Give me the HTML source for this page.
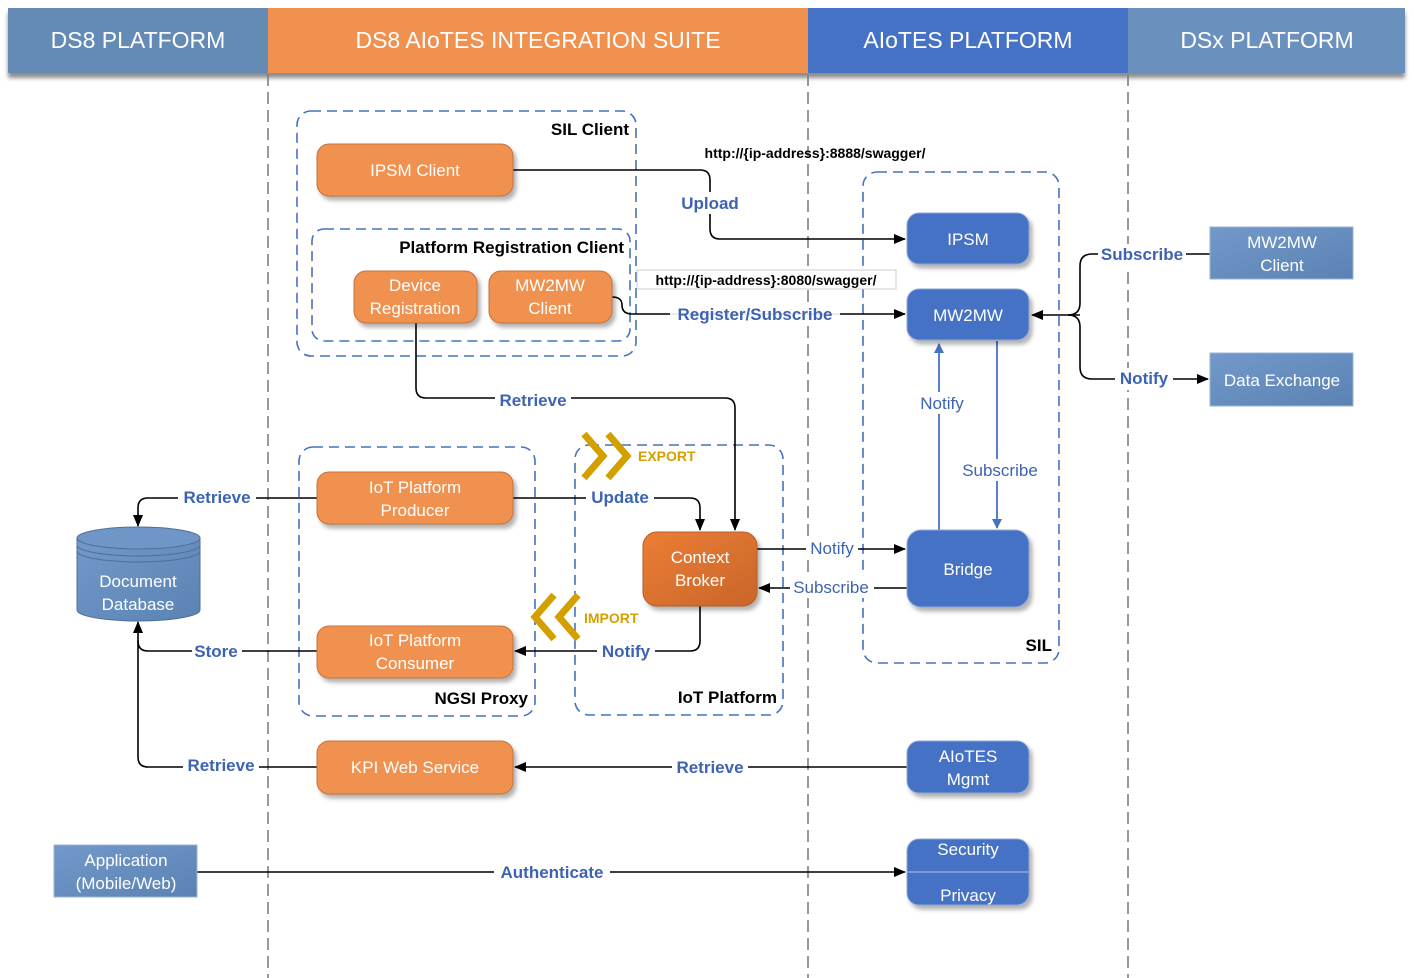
<!DOCTYPE html>
<html><head><meta charset="utf-8"><style>
html,body{margin:0;padding:0;background:#fff;}
svg{display:block;font-family:"Liberation Sans",sans-serif;}
.bt{fill:#fff;font-size:17px;text-anchor:middle;}
.lb{fill:#3d63b3;font-size:17px;font-weight:bold;text-anchor:middle;}
.ln{fill:#3d63b3;font-size:17px;text-anchor:middle;}
.gt{fill:#000;font-size:17px;font-weight:bold;text-anchor:end;}
.c{fill:none;stroke:#000;stroke-width:1.6;}
.d{fill:none;stroke:#4472c4;stroke-width:1.6;stroke-dasharray:10 6;}
.o{fill:#f0914f;stroke:#c8723a;stroke-width:1;filter:url(#sh);}
.b{fill:#4472c4;stroke:#8fa8d8;stroke-width:1;filter:url(#sh);}
.lbx{fill:url(#lg);stroke:#9ab3d6;stroke-width:1;}
</style></head><body>
<svg width="1414" height="978" viewBox="0 0 1414 978" xmlns="http://www.w3.org/2000/svg">
<defs>
<filter id="sh" x="-10%" y="-10%" width="130%" height="140%"><feDropShadow dx="3" dy="4" stdDeviation="2" flood-color="#000" flood-opacity="0.3"/></filter>
<filter id="hs" x="-5%" y="-10%" width="110%" height="140%"><feDropShadow dx="0" dy="5" stdDeviation="2" flood-color="#000" flood-opacity="0.45"/></filter>
<linearGradient id="lg" x1="0" y1="0" x2="1" y2="1"><stop offset="0" stop-color="#7299c9"/><stop offset="1" stop-color="#5a82b2"/></linearGradient>
<linearGradient id="cb" x1="0" y1="0" x2="1" y2="1"><stop offset="0" stop-color="#ec7d35"/><stop offset="1" stop-color="#c8662a"/></linearGradient>
<marker id="a" markerWidth="12" markerHeight="10" refX="11" refY="5" orient="auto" markerUnits="userSpaceOnUse"><path d="M0,0 L12,5 L0,10 z" fill="#000"/></marker>
<marker id="ab" markerWidth="10" markerHeight="10" refX="9" refY="5" orient="auto" markerUnits="userSpaceOnUse"><path d="M0,0 L10,5 L0,10 z" fill="#4472c4"/></marker>
</defs>

<!-- header -->
<g filter="url(#hs)">
<rect x="8" y="8" width="260" height="65" fill="#648bb6"/>
<rect x="268" y="8" width="540" height="65" fill="#f0914f"/>
<rect x="808" y="8" width="320" height="65" fill="#4472c4"/>
<rect x="1128" y="8" width="277" height="65" fill="#6a90bd"/>
</g>
<g fill="#fff" font-size="23" text-anchor="middle">
<text x="138" y="48">DS8 PLATFORM</text>
<text x="538" y="48">DS8 AIoTES INTEGRATION SUITE</text>
<text x="968" y="48">AIoTES PLATFORM</text>
<text x="1267" y="48">DSx PLATFORM</text>
</g>

<!-- swimlane dividers -->
<g stroke="#808080" stroke-width="1.6" stroke-dasharray="12 6">
<line x1="268" y1="74" x2="268" y2="978"/>
<line x1="808" y1="74" x2="808" y2="978"/>
<line x1="1128" y1="74" x2="1128" y2="978"/>
</g>

<!-- dashed groups -->
<rect class="d" x="297" y="111" width="339" height="245" rx="14"/>
<rect class="d" x="312" y="229" width="318" height="112" rx="12"/>
<rect class="d" x="299" y="447" width="236" height="269" rx="14"/>
<rect class="d" x="575" y="445" width="208" height="270" rx="14"/>
<rect class="d" x="863" y="172" width="196" height="491" rx="14"/>
<text class="gt" x="629" y="135">SIL Client</text>
<text class="gt" x="624" y="253">Platform Registration Client</text>
<text class="gt" x="528" y="704">NGSI Proxy</text>
<text class="gt" x="777" y="703">IoT Platform</text>
<text class="gt" x="1052" y="651">SIL</text>

<!-- url labels -->
<text x="815" y="158" font-size="14" font-weight="bold" text-anchor="middle">http://{ip-address}:8888/swagger/</text>
<rect x="637" y="270" width="259" height="19" fill="#fff" stroke="#ccc"/>
<text x="766" y="285" font-size="14" font-weight="bold" text-anchor="middle">http://{ip-address}:8080/swagger/</text>

<!-- connectors -->
<path class="c" d="M513,170 H700 Q710,170 710,180 V229 Q710,239 720,239 H905" marker-end="url(#a)"/>
<path class="c" d="M612,297 Q622,297 622,305 Q622,314 632,314 H905" marker-end="url(#a)"/>
<path class="c" d="M1080,315 H1032" marker-end="url(#a)"/>
<path class="c" d="M1068,315 Q1080,315 1080,303 V266 Q1080,254 1092,254 H1210"/>
<path class="c" d="M1068,315 Q1080,315 1080,327 V367 Q1080,379 1092,379 H1208" marker-end="url(#a)"/>
<path fill="none" stroke="#4472c4" stroke-width="1.8" d="M939,530 V344" marker-end="url(#ab)"/>
<path fill="none" stroke="#4472c4" stroke-width="1.8" d="M997,341 V528" marker-end="url(#ab)"/>
<path class="c" d="M416,323 V388 Q416,398 426,398 H725 Q735,398 735,408 V530" marker-end="url(#a)"/>
<path class="c" d="M513,498 H690 Q700,498 700,508 V530" marker-end="url(#a)"/>
<path class="c" d="M317,498 H148 Q138,498 138,508 V526" marker-end="url(#a)"/>
<path class="c" d="M757,549 H905" marker-end="url(#a)"/>
<path class="c" d="M907,588 H759" marker-end="url(#a)"/>
<path class="c" d="M700,606 V641 Q700,651 690,651 H515" marker-end="url(#a)"/>
<path class="c" d="M317,651 H148 Q138,651 138,641 V622" marker-end="url(#a)"/>
<path class="c" d="M317,767 H148 Q138,767 138,757 V640"/>
<path class="c" d="M907,767 H515" marker-end="url(#a)"/>
<path class="c" d="M197,872 H905" marker-end="url(#a)"/>

<!-- connector labels -->
<g>
<rect x="676" y="192" width="70" height="22" fill="#fff"/><text class="lb" x="710" y="209">Upload</text>
<rect x="670" y="303" width="170" height="22" fill="#fff" opacity="0.9"/><text class="lb" x="755" y="320">Register/Subscribe</text>
<rect x="1098" y="244" width="88" height="22" fill="#fff"/><text class="lb" x="1142" y="260">Subscribe</text>
<rect x="1115" y="368" width="58" height="22" fill="#fff"/><text class="lb" x="1144" y="384">Notify</text>
<rect x="915" y="392" width="54" height="22" fill="#fff"/><text class="ln" x="942" y="409">Notify</text>
<rect x="958" y="459" width="84" height="22" fill="#fff"/><text class="ln" x="1000" y="476">Subscribe</text>
<rect x="495" y="389" width="76" height="22" fill="#fff"/><text class="lb" x="533" y="406">Retrieve</text>
<rect x="586" y="486" width="68" height="22" fill="#fff"/><text class="lb" x="620" y="503">Update</text>
<rect x="178" y="486" width="78" height="22" fill="#fff"/><text class="lb" x="217" y="503">Retrieve</text>
<rect x="806" y="537" width="52" height="22" fill="#fff"/><text class="ln" x="832" y="554">Notify</text>
<rect x="790" y="576" width="84" height="22" fill="#fff"/><text class="ln" x="831" y="593">Subscribe</text>
<rect x="597" y="640" width="58" height="22" fill="#fff"/><text class="lb" x="626" y="657">Notify</text>
<rect x="192" y="640" width="50" height="22" fill="#fff"/><text class="lb" x="216" y="657">Store</text>
<rect x="183" y="754" width="76" height="22" fill="#fff"/><text class="lb" x="221" y="771">Retrieve</text>
<rect x="672" y="756" width="76" height="22" fill="#fff"/><text class="lb" x="710" y="773">Retrieve</text>
<rect x="494" y="861" width="116" height="22" fill="#fff"/><text class="lb" x="552" y="878">Authenticate</text>
</g>

<!-- export / import chevrons -->
<g fill="none" stroke="#d4a000" stroke-width="7">
<path d="M584,434 L603,456 L584,478"/><path d="M608,434 L627,456 L608,478"/>
<path d="M554,595 L535,617 L554,639"/><path d="M578,595 L559,617 L578,639"/>
</g>
<text x="638" y="461" fill="#d4a000" font-size="14" font-weight="bold">EXPORT</text>
<text x="584" y="623" fill="#d4a000" font-size="14" font-weight="bold">IMPORT</text>

<!-- orange boxes -->
<rect class="o" x="317" y="144" width="196" height="52" rx="12"/>
<text class="bt" x="415" y="176">IPSM Client</text>
<rect class="o" x="354" y="271" width="123" height="52" rx="12"/>
<text class="bt" x="415" y="291">Device</text><text class="bt" x="415" y="314">Registration</text>
<rect class="o" x="489" y="271" width="123" height="52" rx="12"/>
<text class="bt" x="550" y="291">MW2MW</text><text class="bt" x="550" y="314">Client</text>
<rect class="o" x="317" y="472" width="196" height="52" rx="12"/>
<text class="bt" x="415" y="493">IoT Platform</text><text class="bt" x="415" y="516">Producer</text>
<rect class="o" x="317" y="626" width="196" height="52" rx="12"/>
<text class="bt" x="415" y="646">IoT Platform</text><text class="bt" x="415" y="669">Consumer</text>
<rect class="o" x="317" y="741" width="196" height="53" rx="12"/>
<text class="bt" x="415" y="773">KPI Web Service</text>
<rect x="643" y="532" width="114" height="74" rx="14" fill="url(#cb)" stroke="#b85c25" filter="url(#sh)"/>
<text class="bt" x="700" y="563">Context</text><text class="bt" x="700" y="586">Broker</text>

<!-- blue boxes -->
<rect class="b" x="907" y="213" width="122" height="51" rx="12"/>
<text class="bt" x="968" y="245">IPSM</text>
<rect class="b" x="907" y="289" width="122" height="51" rx="12"/>
<text class="bt" x="968" y="321">MW2MW</text>
<rect class="b" x="907" y="530" width="122" height="77" rx="14"/>
<text class="bt" x="968" y="575">Bridge</text>
<rect class="b" x="907" y="741" width="122" height="52" rx="12"/>
<text class="bt" x="968" y="762">AIoTES</text><text class="bt" x="968" y="785">Mgmt</text>
<rect class="b" x="907" y="839" width="122" height="66" rx="12"/>
<line x1="907" y1="872" x2="1029" y2="872" stroke="#8fa8d8" stroke-width="1.5"/>
<text class="bt" x="968" y="855">Security</text><text class="bt" x="968" y="901">Privacy</text>

<!-- light blue boxes -->
<rect class="lbx" x="1210" y="227" width="143" height="52"/>
<text class="bt" x="1282" y="248">MW2MW</text><text class="bt" x="1282" y="271">Client</text>
<rect class="lbx" x="1210" y="353" width="143" height="53"/>
<text class="bt" x="1282" y="386">Data Exchange</text>
<rect class="lbx" x="54" y="845" width="143" height="52"/>
<text class="bt" x="126" y="866">Application</text><text class="bt" x="126" y="889">(Mobile/Web)</text>

<!-- database cylinder -->
<path d="M77,538 V610 A61.5,11 0 0 0 200,610 V538" fill="url(#lg)" stroke="#4f6f98"/>
<ellipse cx="138.5" cy="538" rx="61.5" ry="11" fill="#6f96c6" stroke="#4f6f98"/>
<path d="M77,545 A61.5,11 0 0 0 200,545 M77,551 A61.5,11 0 0 0 200,551" fill="none" stroke="#4f6f98"/>
<text class="bt" x="138" y="587">Document</text><text class="bt" x="138" y="610">Database</text>
</svg>
</body></html>
